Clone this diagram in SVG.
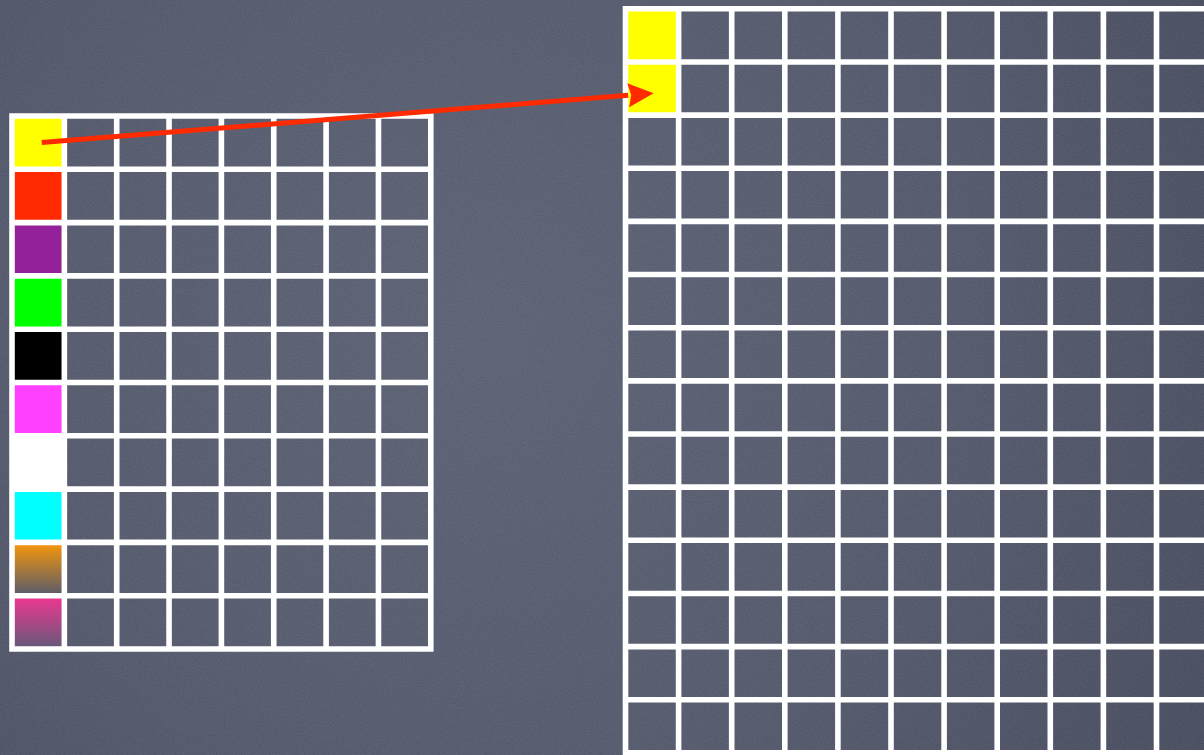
<svg xmlns="http://www.w3.org/2000/svg" width="1204" height="755" viewBox="0 0 1204 755">
<style>
.grid{fill:none;stroke:#ffffff;stroke-width:5.6;stroke-linecap:square}
.arrow{fill:none;stroke:#ff2a00;stroke-width:5}
</style>
<defs>
<radialGradient id="bg" cx="480" cy="330" r="800" gradientUnits="userSpaceOnUse">
<stop offset="0" stop-color="#565c6f"/>
<stop offset="0.6" stop-color="#4d5366"/>
<stop offset="1" stop-color="#42475a"/>
</radialGradient>
<linearGradient id="orange" x1="0" y1="0" x2="0" y2="1">
<stop offset="0" stop-color="#fa980a"/>
<stop offset="1" stop-color="#575a6c"/>
</linearGradient>
<linearGradient id="pink" x1="0" y1="0" x2="0" y2="1">
<stop offset="0" stop-color="#f23592"/>
<stop offset="1" stop-color="#625a78"/>
</linearGradient>
<filter id="chalk" x="0" y="0" width="100%" height="100%">
<feTurbulence type="fractalNoise" baseFrequency="0.9" numOctaves="2" seed="3" result="n"/>
<feColorMatrix type="matrix" values="0 0 0 0 1  0 0 0 0 1  0 0 0 0 1  0 0 0 0.12 0" in="n"/>
</filter>
<marker id="head" markerUnits="userSpaceOnUse" markerWidth="26" markerHeight="26" refX="0" refY="12" orient="auto" viewBox="0 0 26 24">
<path d="M0,0 L25.5,12 L0,24 L3,12 z" fill="#ff2a00"/>
</marker>
</defs>
<rect width="1204" height="755" fill="url(#bg)"/>
<rect width="1204" height="755" filter="url(#chalk)"/>

<g id="left-grid">
<g id="cell-yellow"><rect x="12" y="116" width="52.35" height="53.3" fill="#ffff00"/></g>
<g id="cell-red"><rect x="12" y="169.3" width="52.35" height="53.3" fill="#ff2a00"/></g>
<g id="cell-purple"><rect x="12" y="222.6" width="52.35" height="53.3" fill="#93219a"/></g>
<g id="cell-green"><rect x="12" y="275.9" width="52.35" height="53.3" fill="#00ff00"/></g>
<g id="cell-black"><rect x="12" y="329.2" width="52.35" height="53.3" fill="#000000"/></g>
<g id="cell-magenta"><rect x="12" y="382.5" width="52.35" height="53.3" fill="#ff40ff"/></g>
<g id="cell-white"><rect x="12" y="435.8" width="52.35" height="53.3" fill="#ffffff"/></g>
<g id="cell-cyan"><rect x="12" y="489.1" width="52.35" height="53.3" fill="#00ffff"/></g>
<g id="cell-orange"><rect x="12" y="542.4" width="52.35" height="53.3" fill="url(#orange)"/></g>
<g id="cell-pink"><rect x="12" y="595.7" width="52.35" height="53.3" fill="url(#pink)"/></g>
<path class="grid" d="M12,116V649 M64.35,116V649 M116.7,116V649 M169.05,116V649 M221.4,116V649 M273.75,116V649 M326.1,116V649 M378.45,116V649 M430.8,116V649 M12,116H430.8 M12,169.3H430.8 M12,222.6H430.8 M12,275.9H430.8 M12,329.2H430.8 M12,382.5H430.8 M12,435.8H430.8 M12,489.1H430.8 M12,542.4H430.8 M12,595.7H430.8 M12,649H430.8"/>
</g>

<g id="right-grid">
<g id="cell-right-yellow"><rect x="625.5" y="8.8" width="53.1" height="106.3" fill="#ffff00"/></g>
<path class="grid" d="M625.5,8.8V760 M678.6,8.8V760 M731.7,8.8V760 M784.8,8.8V760 M837.9,8.8V760 M891,8.8V760 M944.1,8.8V760 M997.2,8.8V760 M1050.3,8.8V760 M1103.4,8.8V760 M1156.5,8.8V760 M1209.6,8.8V760 M625.5,8.8H1215 M625.5,61.95H1215 M625.5,115.1H1215 M625.5,168.25H1215 M625.5,221.4H1215 M625.5,274.55H1215 M625.5,327.7H1215 M625.5,380.85H1215 M625.5,434H1215 M625.5,487.15H1215 M625.5,540.3H1215 M625.5,593.45H1215 M625.5,646.6H1215 M625.5,699.75H1215 M625.5,752.9H1215"/>
</g>

<g id="connectors">
<path class="arrow" d="M41.7,142.5 L628.2,95.3" marker-end="url(#head)"/>
</g>
</svg>
